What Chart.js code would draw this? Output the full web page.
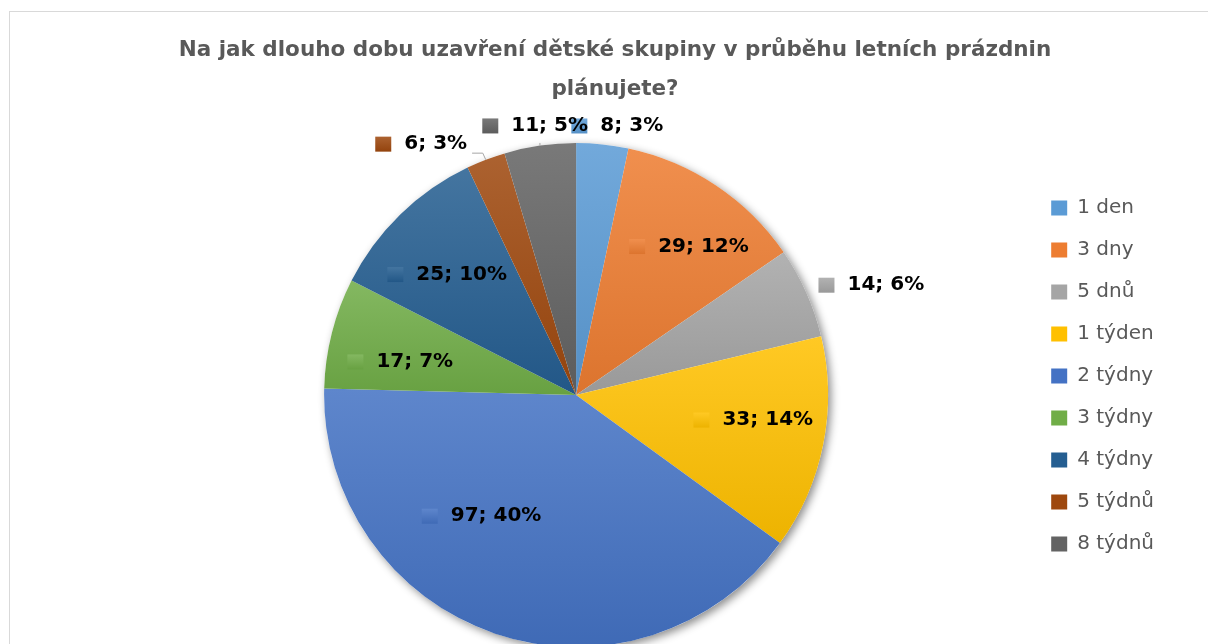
<!DOCTYPE html>
<html>
<head>
<meta charset="utf-8">
<script src="https://cdn.jsdelivr.net/npm/chart.js@4.4.1/dist/chart.umd.min.js"></script>
<style>
  html, body { margin: 0; padding: 0; background: #fff; overflow: hidden; }
  #ramecek { position: absolute; left: 9px; top: 11px; width: 1400px; height: 900px; border: 1px solid #d9d9d9; }
  #obal { position: absolute; left: 0; top: 0; width: 1230px; height: 660px; }
</style>
</head>
<body>
<div id="ramecek"></div>
<div id="obal"><canvas id="graf"></canvas></div>
<script>
// data z grafu
const kategorie = ["1 den", "3 dny", "5 dnů", "1 týden", "2 týdny", "3 týdny", "4 týdny", "5 týdnů", "8 týdnů"];
const pocty = [8, 29, 14, 33, 97, 17, 25, 6, 11];
const barvy = ["#5B9BD5", "#ED7D31", "#A5A5A5", "#FFC000", "#4472C4", "#70AD47", "#255E91", "#9E480E", "#636363"];
const nadpis = ["Na jak dlouho dobu uzavření dětské skupiny v průběhu letních prázdnin", "plánujete?"];

// umístění popisků: [násobek poloměru, posun úhlu ve stupních, odkazová čára]
const polohaPopisku = [
  [1.08, 2.7, false],
  [0.74, 3.5, false],
  [1.25, 3.6, false],
  [0.71, -3.2, false],
  [0.61, 19.2, false],
  [0.71, -3.6, false],
  [0.70, -2.7, false],
  [1.17, -10.7, true],
  [1.08, -0.4, true]
];

const PISMO = '"DejaVu Sans", sans-serif';
Chart.defaults.font.family = PISMO;

const celkem = pocty.reduce((a, b) => a + b, 0);

function smichej(hex, cil, t) {
  const a = parseInt(hex.slice(1), 16), b = parseInt(cil.slice(1), 16);
  const ch = (v, s) => (v >> s) & 255;
  const m = (s) => Math.round(ch(a, s) + (ch(b, s) - ch(a, s)) * t);
  return "rgb(" + m(16) + "," + m(8) + "," + m(0) + ")";
}

// přechod v rámci výseče (světlejší nahoře, tmavší dole)
function prechod(c) {
  const i = c.dataIndex;
  const area = c.chart.chartArea;
  if (i === undefined) return barvy[0];
  if (!area) return barvy[i];
  const R = 252;
  const cy = (area.top + area.bottom) / 2;
  let pred = 0;
  for (let j = 0; j < i; j++) pred += pocty[j];
  const a0 = -Math.PI / 2 + (pred / celkem) * Math.PI * 2;
  const a1 = a0 + (pocty[i] / celkem) * Math.PI * 2;
  const ys = [cy, cy + R * Math.sin(a0), cy + R * Math.sin(a1)];
  if (a0 < Math.PI / 2 && a1 > Math.PI / 2) ys.push(cy + R);
  const g = c.chart.ctx.createLinearGradient(0, Math.min(...ys), 0, Math.max(...ys));
  g.addColorStop(0, smichej(barvy[i], "#ffffff", 0.14));
  g.addColorStop(1, smichej(barvy[i], "#000000", 0.07));
  return g;
}

// nadpis přes celou šířku plátna (v Excelu je vystředěný k celé oblasti grafu)
const nadpisPlugin = {
  id: "nadpisPresSirku",
  afterLayout(chart) {
    const t = chart.titleBlock;
    if (!t) return;
    t.left = 0;
    t.right = chart.width;
    t.width = chart.width;
  }
};

const popiskyPlugin = {
  id: "popisky",
  beforeDatasetsDraw(chart) {
    // stín pod koláčem
    const arc = chart.getDatasetMeta(0).data[0];
    if (!arc) return;
    const ctx = chart.ctx;
    ctx.save();
    ctx.shadowColor = "rgba(0,0,0,0.45)";
    ctx.shadowBlur = 8;
    ctx.shadowOffsetX = 3;
    ctx.shadowOffsetY = 3;
    ctx.fillStyle = "#fff";
    ctx.beginPath();
    ctx.arc(arc.x, arc.y, arc.outerRadius, 0, Math.PI * 2);
    ctx.fill();
    ctx.restore();
  },
  afterDatasetsDraw(chart) {
    const ctx = chart.ctx;
    const meta = chart.getDatasetMeta(0);
    ctx.save();
    ctx.font = "bold 20px " + PISMO;
    ctx.textBaseline = "middle";
    ctx.textAlign = "left";
    meta.data.forEach((arc, i) => {
      const p = arc.getProps(["x", "y", "startAngle", "endAngle", "outerRadius"], true);
      const [k, posun, cara] = polohaPopisku[i];
      const stred = (p.startAngle + p.endAngle) / 2;
      const a = stred + (posun * Math.PI) / 180;
      const cx = p.x + Math.cos(a) * p.outerRadius * k;
      const cy = p.y + Math.sin(a) * p.outerRadius * k;
      const text = pocty[i] + "; " + Math.round((pocty[i] / celkem) * 100) + "%";
      const tw = ctx.measureText(text).width;
      const left = cx - (29 + tw) / 2;
      const right = left + 29 + tw;

      if (cara) {
        const px = p.x + Math.cos(stred) * p.outerRadius;
        const py = p.y + Math.sin(stred) * p.outerRadius;
        ctx.strokeStyle = "#a6a6a6";
        ctx.lineWidth = 1;
        ctx.beginPath();
        if (px > right) {
          ctx.moveTo(right + 5, cy + 9);
          ctx.lineTo(px - 3, cy + 9);
        } else {
          ctx.moveTo(px, cy + 17);
        }
        ctx.lineTo(px, py);
        ctx.stroke();
      }

      const g = ctx.createLinearGradient(0, cy - 7.5, 0, cy + 7.5);
      g.addColorStop(0, smichej(barvy[i], "#ffffff", 0.14));
      g.addColorStop(1, smichej(barvy[i], "#000000", 0.07));
      ctx.fillStyle = g;
      ctx.fillRect(left, cy - 7.5, 16, 15);
      ctx.fillStyle = "#000";
      ctx.fillText(text, left + 29, cy);
    });
    ctx.restore();
  }
};

new Chart(document.getElementById("graf"), {
  type: "pie",
  data: {
    labels: kategorie,
    datasets: [{
      data: pocty,
      backgroundColor: prechod,
      borderWidth: 0,
      radius: 252,
      clip: false
    }]
  },
  options: {
    responsive: true,
    maintainAspectRatio: false,
    animation: false,
    layout: { padding: { left: 123, right: 66, top: 0, bottom: 46 } },
    plugins: {
      title: {
        display: true,
        text: nadpis,
        color: "#595959",
        font: { size: 21.5, weight: "bold", lineHeight: 1.814 },
        padding: { top: 31, bottom: 67 }
      },
      legend: {
        position: "right",
        align: "start",
        fullSize: false,
        labels: {
          color: "#595959",
          font: { size: 20 },
          boxWidth: 16,
          boxHeight: 15,
          padding: 22,
          generateLabels(chart) {
            const polozky = Chart.overrides.doughnut.plugins.legend.labels.generateLabels(chart);
            return polozky.map((p, i) => ({ ...p, fillStyle: barvy[i], strokeStyle: barvy[i], lineWidth: 0 }));
          }
        }
      },
      tooltip: { enabled: false }
    }
  },
  plugins: [nadpisPlugin, popiskyPlugin]
});
</script>
</body>
</html>
